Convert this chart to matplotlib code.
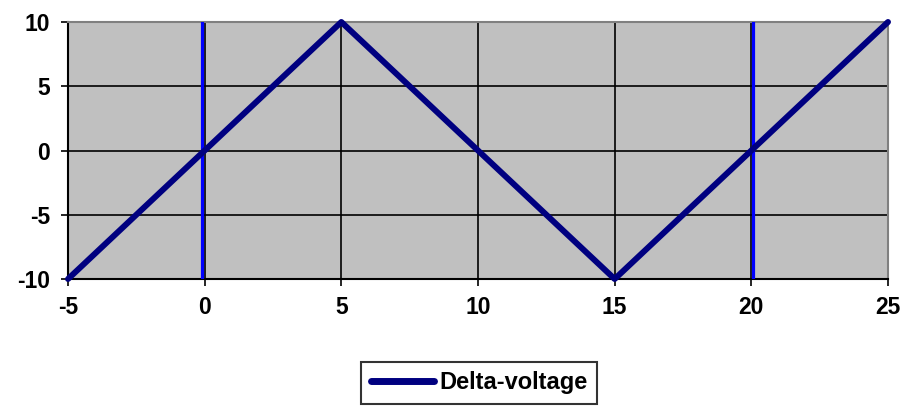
import matplotlib
matplotlib.use("Agg")
import matplotlib.pyplot as plt

# Delta-voltage triangle wave
x_vals = [-5, 5, 15, 25]
delta_voltage = [-10, 10, -10, 10]

# Vertical marker positions
marker_x = [-0.1, 20.05]

x_ticks = [-5, 0, 5, 10, 15, 20, 25]
y_ticks = [-10, -5, 0, 5, 10]

plt.rcParams['font.family'] = ['Liberation Sans', 'DejaVu Sans']

fig = plt.figure(figsize=(9.04, 4.08), dpi=100)
ax = fig.add_axes([68/904, 1-279/408, (888-68)/904, (279-22)/408])
ax.set_facecolor('#c0c0c0')

ax.set_xlim(-5, 25)
ax.set_ylim(-10, 10)
ax.set_xticks(x_ticks)
ax.set_yticks(y_ticks)
ax.set_xticklabels([str(t) for t in x_ticks], fontsize=16.5, fontweight='bold')
ax.set_yticklabels([str(t) for t in y_ticks], fontsize=16.5, fontweight='bold')
ax.grid(True, color='black', linewidth=1.2)
ax.set_axisbelow(True)
ax.tick_params(direction='out', length=5, width=1.2, color='black')
ax.tick_params(axis='x', pad=7)
ax.tick_params(axis='y', pad=8)

for side in ['left', 'bottom']:
    ax.spines[side].set_color('black')
    ax.spines[side].set_linewidth(1.5)
for side in ['top', 'right']:
    ax.spines[side].set_color('#808080')
    ax.spines[side].set_linewidth(1.5)

for mx in marker_x:
    ax.axvline(mx, color='#0000ff', linewidth=2.3, zorder=3)

line, = ax.plot(x_vals, delta_voltage, color='#000080', linewidth=4.3,
                solid_capstyle='round', zorder=4, label='Delta-voltage', clip_on=False)

leg = fig.legend(handles=[line], loc='center', bbox_to_anchor=(479/904, 1-383/408),
                 frameon=True, fancybox=False, edgecolor='black',
                 prop={'weight': 'bold', 'size': 17}, handlelength=2.7,
                 handletextpad=0.2, borderpad=0.4)
leg.get_frame().set_linewidth(1.5)
leg.get_lines()[0].set_linewidth(5)

fig.savefig('out.png', dpi=100)
